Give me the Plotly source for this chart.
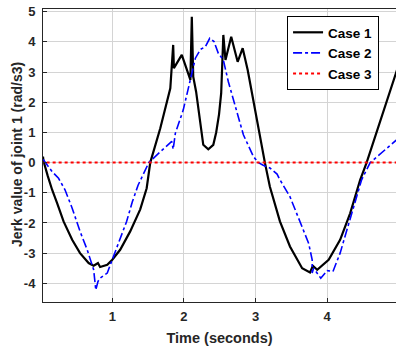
import plotly.graph_objects as go

# Jerk of joint 1 over time for three trajectory cases
t1 = [0.033, 0.04, 0.10, 0.16, 0.23, 0.32, 0.44, 0.55, 0.67, 0.74, 0.78, 0.80, 0.83, 0.93, 1.00,
      1.11, 1.25, 1.39, 1.48, 1.53, 1.67, 1.81, 1.85, 1.86, 1.97, 2.09, 2.11, 2.13, 2.17, 2.27,
      2.34, 2.41, 2.45, 2.49, 2.52, 2.55, 2.58, 2.66, 2.75, 2.82, 2.89, 3.03, 3.06, 3.13, 3.20,
      3.34, 3.48, 3.65, 3.76, 3.80, 3.86, 4.02, 4.18, 4.32, 4.46, 4.55, 4.96, 5.00]
case1 = [0.20, 0.05, -0.45, -0.90, -1.34, -1.95, -2.56, -3.00, -3.33, -3.42, -3.36, -3.33, -3.46,
         -3.39, -3.22, -2.89, -2.28, -1.55, -0.85, 0.00, 1.14, 2.46, 3.90, 3.13, 3.57, 2.74, 4.83,
         2.85, 2.35, 0.59, 0.44, 0.59, 1.00, 1.60, 2.30, 4.23, 3.40, 4.17, 3.34, 3.79, 3.07, 1.20,
         0.86, 0.00, -0.80, -1.95, -2.78, -3.50, -3.64, -3.42, -3.55, -3.22, -2.56, -1.68, -0.57,
         0.00, 2.97, 3.25]

t2 = [0.033, 0.04, 0.16, 0.25, 0.34, 0.44, 0.55, 0.65, 0.74, 0.77, 0.80, 0.83, 0.93, 1.00, 1.11,
      1.20, 1.28, 1.36, 1.44, 1.51, 1.67, 1.83, 1.85, 1.88, 1.99, 2.09, 2.16, 2.23, 2.30, 2.36,
      2.42, 2.48, 2.55, 2.62, 2.72, 2.83, 2.97, 3.04, 3.10, 3.20, 3.30, 3.34, 3.48, 3.62, 3.74,
      3.79, 3.79, 3.81, 3.91, 4.00, 4.08, 4.18, 4.30, 4.39, 4.48, 4.60, 4.96, 5.00]
case2 = [0.10, 0.09, -0.30, -0.52, -0.90, -1.51, -2.28, -2.89, -3.55, -4.22, -3.94, -3.83, -3.66,
         -3.22, -2.56, -1.95, -1.30, -0.75, -0.35, 0.00, 0.36, 0.70, 0.44, 0.97, 1.74, 2.74, 3.46,
         3.75, 3.84, 4.12, 4.01, 3.62, 3.40, 2.68, 1.80, 0.92, 0.20, 0.00, -0.08, -0.18, -0.38,
         -0.57, -1.13, -1.95, -2.67, -3.22, -3.66, -3.50, -3.83, -3.58, -3.61, -3.00, -2.00, -1.24,
         -0.57, 0.00, 0.75, 0.82]

t3 = [0.0, 5.0]
case3 = [0.0, 0.0]

x_ticks = [1, 2, 3, 4]
y_ticks = [-4, -3, -2, -1, 0, 1, 2, 3, 4, 5]

FONT = "Liberation Sans, Arial, Helvetica, sans-serif"
AXIS = "#262626"
GRID = "#d4d4d4"

fig = go.Figure()
fig.add_trace(go.Scatter(x=t1, y=case1, mode="lines", name="Case 1",
                         line=dict(color="black", width=2.2)))
fig.add_trace(go.Scatter(x=t2, y=case2, mode="lines", name="Case 2",
                         line=dict(color="blue", width=1.6, dash="dashdot")))
fig.add_trace(go.Scatter(x=t3, y=case3, mode="lines", name="Case 3",
                         line=dict(color="red", width=2, dash="dot")))

fig.update_layout(
    width=396, height=349,
    margin=dict(l=43, r=0, t=9, b=47),
    paper_bgcolor="white", plot_bgcolor="white",
    font=dict(family=FONT, color=AXIS),
    showlegend=True,
    legend=dict(
        x=0.952, y=0.976, xanchor="right", yanchor="top",
        bgcolor="white", bordercolor="black", borderwidth=1,
        font=dict(family=FONT, size=13.5, color="black", weight="bold"),
        tracegroupgap=0, itemwidth=30,
    ),
    xaxis=dict(
        range=[0.033, 4.96], tickvals=x_ticks, ticktext=[str(v) for v in x_ticks],
        showgrid=True, gridcolor=GRID, gridwidth=1, zeroline=False,
        showline=True, linecolor=AXIS, linewidth=1, mirror=True,
        ticks="inside", ticklen=4, tickcolor=AXIS, ticklabelstandoff=2,
        tickfont=dict(size=13, weight="bold", color=AXIS),
        title=dict(text="Time (seconds)", standoff=10,
                   font=dict(size=14.5, weight="bold", color=AXIS)),
    ),
    yaxis=dict(
        range=[-4.62, 5.09], tickvals=y_ticks, ticktext=[str(v) for v in y_ticks],
        showgrid=True, gridcolor=GRID, gridwidth=1, zeroline=False,
        showline=True, linecolor=AXIS, linewidth=1, mirror=False,
        ticks="inside", ticklen=4, tickcolor=AXIS, ticklabelstandoff=4,
        tickfont=dict(size=13, weight="bold", color=AXIS),
    ),
    annotations=[dict(
        text="Jerk value of joint 1 (rad/s3)", textangle=-90,
        xref="paper", yref="paper", x=-0.0737, y=0.505,
        xanchor="center", yanchor="middle", showarrow=False,
        font=dict(family=FONT, size=14, weight="bold", color=AXIS),
    )],
)

fig.write_html("out.html")
